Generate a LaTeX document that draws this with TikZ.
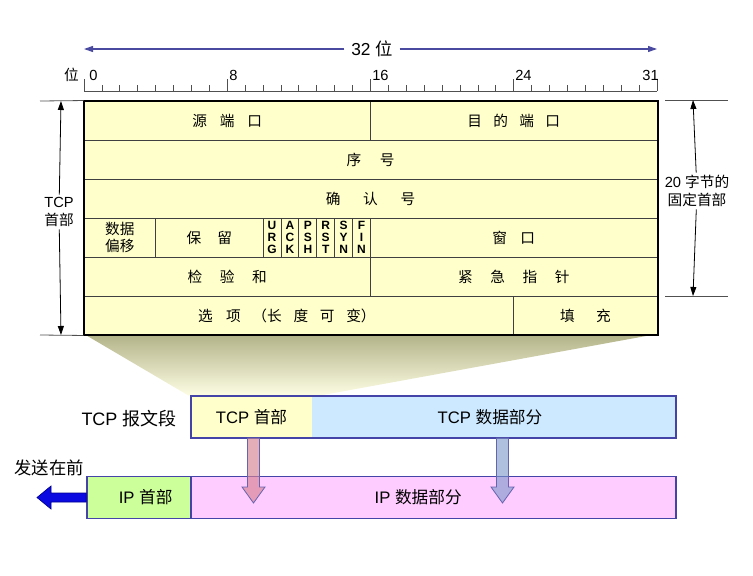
\documentclass[tikz,border=0pt]{standalone}
\usepackage{fontspec}
\setmainfont{Liberation Sans}
\newfontfamily\cjk{Noto Sans CJK SC}
\usetikzlibrary{arrows.meta,calc}
\definecolor{tfill}{HTML}{FFFFCC}
\definecolor{tline}{HTML}{404040}
\definecolor{rulec}{HTML}{4A4AA0}
\definecolor{boxline}{HTML}{4444A8}
\definecolor{hyellow}{HTML}{FFFFCC}
\definecolor{dblue}{HTML}{CCE9FF}
\definecolor{igreen}{HTML}{CCFF99}
\definecolor{ipink}{HTML}{FFCCFF}
\definecolor{shtop}{HTML}{B2B288}
\definecolor{shbot}{HTML}{FFFFE6}
\definecolor{dimc}{HTML}{505050}
\newcommand\hs[1]{\hspace{#1em}}
\begin{document}
\begin{tikzpicture}[x=0.75pt,y=-0.75pt,
  cw/.style={minimum width=#1*0.75pt},
  cell/.style={draw=tline, line width=0.7pt, fill=tfill, inner sep=0pt,
    minimum height=39*0.75pt, font=\cjk\fontsize{11}{15}\selectfont, align=center},
  flag/.style={cell, cw=17.906, font=\fontsize{9}{9.2}\selectfont\bfseries},
  lbl/.style={inner sep=2pt, align=center, font=\fontsize{11}{13}\selectfont},
  dim/.style={draw=dimc, line width=0.6pt},
  dimtip/.style={-{Triangle[length=9*0.75pt,width=6*0.75pt]}, draw=black, line width=0.6pt},
  segbox/.style={inner sep=0pt, minimum height=42*0.75pt, font=\fontsize{12.5}{14}\selectfont},
  frame/.style={draw=boxline, line width=1.2pt},
  ticklbl/.style={inner sep=0pt, font=\fontsize{11}{13}\selectfont}
]
\useasboundingbox (0,0) rectangle (753,575);

% ---- 32 bit arrow ----
\node[inner sep=5pt, font=\fontsize{13}{15}\selectfont] (w32) at (372,49) {32 {\cjk 位}};
\coordinate (wl) at (84,49);
\coordinate (wr) at (657,49);
\draw[draw=rulec, line width=0.8pt, -{Triangle[length=9*0.75pt,width=6*0.75pt]}] (w32) -- (wl);
\draw[draw=rulec, line width=0.8pt, -{Triangle[length=9*0.75pt,width=6*0.75pt]}] (w32) -- (wr);

% ---- ruler ----
\node[ticklbl, anchor=east] (wei) at (79,75) {\cjk 位};
\coordinate (r0) at (84,91);
\coordinate (r32) at (657,91);
\draw[line width=0.6pt, draw=dimc] (r0) -- (r32);
\foreach \i in {0,...,32}{
  \pgfmathsetmacro{\xx}{84+\i*17.906}
  \pgfmathtruncatemacro{\m}{mod(\i,8)}
  \ifnum\m=0
    \draw[line width=0.6pt, draw=dimc] (\xx,91) -- (\xx,79);
  \else
    \draw[line width=0.6pt, draw=dimc] (\xx,91) -- (\xx,85);
  \fi
}
\node[ticklbl, anchor=west] (b0) at (89,75) {0};
\node[ticklbl, anchor=west] (b8) at (229,75) {8};
\node[ticklbl, anchor=west] (b16) at (372,75) {16};
\node[ticklbl, anchor=west] (b24) at (515,75) {24};
\node[ticklbl, anchor=east] (b31) at (659,75) {31};

% ---- shadow trapezoid ----
\shade[top color=shtop, bottom color=shbot] (84,334) -- (657,334) -- (312,397) -- (191,397) -- cycle;

% ---- table ----
\node[cell, cw=286.5] (src) at (227.25,120.5) {源\hs{0.88}端\hs{0.88}口};
\node[cell, cw=286.5] (dst) at (513.75,120.5) {目\hs{0.77}的\hs{0.77}端\hs{0.77}口};
\node[cell, cw=573] (seq) at (370.5,159.5) {序\hs{1.27}号};
\node[cell, cw=573] (ack) at (370.5,198.5) {确\hs{1.55}认\hs{1.55}号};
\node[cell, cw=71.62] (off) at (119.81,237.5) {数据\\[-2pt]偏移};
\node[cell, cw=107.44] (rsv) at (209.34,237.5) {保\hs{1.1}留};
\node[flag] (urg) at (272.02,237.5) {U\\R\\G};
\node[flag] (fack) at (289.93,237.5) {A\\C\\K};
\node[flag] (psh) at (307.84,237.5) {P\\S\\H};
\node[flag] (rst) at (325.74,237.5) {R\\S\\T};
\node[flag] (syn) at (343.65,237.5) {S\\Y\\N};
\node[flag] (fin) at (361.55,237.5) {F\\I\\N};
\node[cell, cw=286.5] (win) at (513.75,237.5) {窗\hs{0.9}口};
\node[cell, cw=286.5] (chk) at (227.25,276.5) {检\hs{1.2}验\hs{1.2}和};
\node[cell, cw=286.5] (urp) at (513.75,276.5) {紧\hs{1.2}急\hs{1.2}指\hs{1.2}针};
\node[cell, cw=429.75] (opt) at (298.9,315.5) {\hspace*{-18pt}选\hs{0.9}项\hs{0.8}（长\hs{0.8}度\hs{0.8}可\hs{0.8}变）};
\node[cell, cw=143.25] (pad) at (585.4,315.5) {填\hs{1.45}充};
\draw[line width=1.5pt, draw=black] (src.north west) rectangle (pad.south east);

% ---- left dimension: TCP header ----
\node[lbl] (tcpl) at (59,212) {TCP\\{\cjk 首部}};
\coordinate (lt) at (61,101);
\coordinate (lb) at (61,335);
\coordinate (lt0) at (40,101);
\coordinate (lb0) at (40,335);
\draw[dim] (lt0) -- (src.north west);
\draw[dim] (lb0) -- (opt.south west);
\draw[dimtip] (tcpl) -- (lt);
\draw[dimtip] (tcpl) -- (lb);

% ---- right dimension: 20 bytes ----
\node[lbl] (fixl) at (697,191) {20 {\cjk 字节的}\\{\cjk 固定首部}};
\coordinate (rt) at (693,100);
\coordinate (rb) at (693,296);
\coordinate (rt0) at (665,100);
\coordinate (rt1) at (728,100);
\coordinate (rb0) at (665,296);
\coordinate (rb1) at (728,296);
\draw[dim] (rt0) -- (rt1);
\draw[dim] (rb0) -- (rb1);
\draw[dimtip] (fixl) -- (rt);
\draw[dimtip] (fixl) -- (rb);

% ---- TCP segment ----
\node[font=\fontsize{13.5}{15}\selectfont, inner sep=1pt] (seglbl) at (129,419) {TCP {\cjk 报文段}};
\node[segbox, fill=hyellow, cw=121] (tcph) at (251.5,417) {TCP {\cjk 首部}};
\node[segbox, fill=dblue, cw=364] (tcpd) at (494,417) {\hspace*{-6pt}TCP {\cjk 数据部分}};
\draw[frame] (tcph.north west) rectangle (tcpd.south east);

% ---- IP datagram ----
\node[font=\fontsize{13}{15}\selectfont, inner sep=1pt] (sendl) at (49,468) {\cjk 发送在前};
\node[segbox, draw=boxline, line width=1.2pt, fill=igreen, cw=104] (iph) at (139,497.5) {\hspace*{10pt}IP {\cjk 首部}};
\node[segbox, draw=boxline, line width=1.2pt, fill=ipink, cw=485] (ipd) at (433.5,497.5) {\hspace*{-23pt}IP {\cjk 数据部分}};

% send-first arrow
\fill[fill={rgb,255:red,10;green,10;blue,225}, draw={rgb,255:red,0;green,0;blue,140}, line width=0.5pt]
  (iph.west |- 0,493) -- (51,493) -- (51,486) -- (37,497.5) -- (51,509) -- (51,502) -- (iph.west |- 0,502) -- cycle;

% down arrows
\begin{scope}[shift={(253.5,438)}]
\filldraw[fill={rgb,255:red,214;green,130;blue,146}, fill opacity=0.65, draw={rgb,255:red,100;green,100;blue,175}, line width=0.6pt]
  (-6,0) -- (-6,49) -- (-11.5,49) -- (0,65) -- (11.5,49) -- (6,49) -- (6,0) -- cycle;
\end{scope}
\begin{scope}[shift={(502.5,438)}]
\filldraw[fill={rgb,255:red,120;green,150;blue,200}, fill opacity=0.6, draw={rgb,255:red,100;green,100;blue,175}, line width=0.6pt]
  (-6,0) -- (-6,49) -- (-11.5,49) -- (0,65) -- (11.5,49) -- (6,49) -- (6,0) -- cycle;
\end{scope}
\end{tikzpicture}
\end{document}
